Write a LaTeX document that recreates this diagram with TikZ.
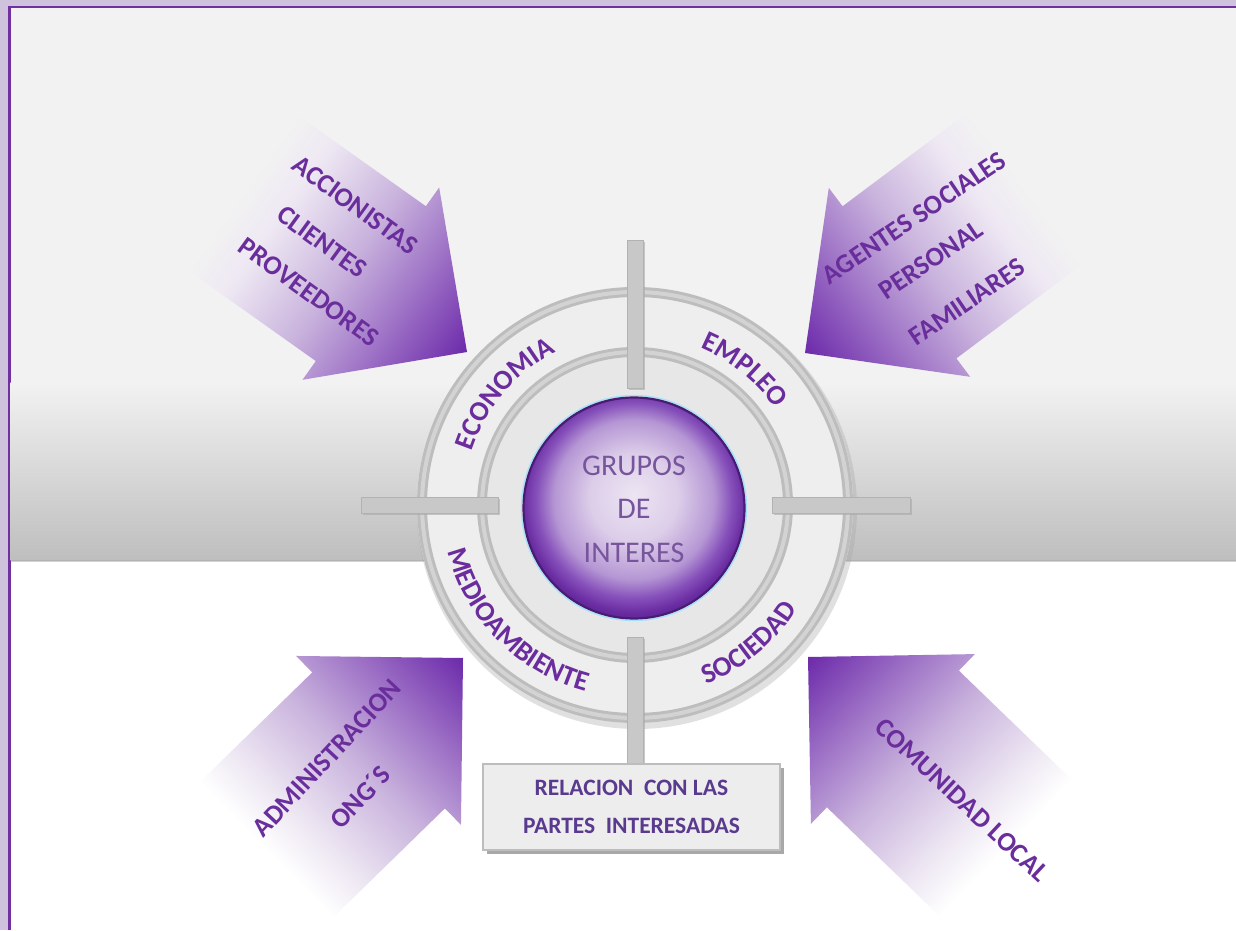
\documentclass[tikz,border=0pt]{standalone}
\usepackage{fontspec}
\setmainfont{Carlito}
\usetikzlibrary{decorations.text}
\definecolor{lav}{HTML}{CFC2DD}
\definecolor{framec}{HTML}{7030A0}
\definecolor{bgtop}{HTML}{F2F2F2}
\definecolor{bgbot}{HTML}{BEBEBE}
\definecolor{ringgray}{HTML}{BDBDBD}
\definecolor{ringlight}{HTML}{D3D3D3}
\definecolor{diskc}{HTML}{EEEEEE}
\definecolor{diskin}{HTML}{E7E7E7}
\definecolor{ringtxt}{HTML}{6B2C9E}
\definecolor{arrtxt}{HTML}{6A2E9C}
\definecolor{sphtxt}{HTML}{77559C}
\definecolor{boxtxt}{HTML}{5A3A8E}
\definecolor{aw}{HTML}{EEE8F3}
\definecolor{amA}{HTML}{C9B3DD}
\definecolor{amB}{HTML}{9E72C6}
\definecolor{ad}{HTML}{6C2AAA}
\definecolor{sphA}{HTML}{ECE5F2}
\definecolor{sphB}{HTML}{DCCDE9}
\definecolor{sphC}{HTML}{B596D4}
\definecolor{sphD}{HTML}{8650BA}
\definecolor{sphE}{HTML}{6A2CA2}
\definecolor{sphF}{HTML}{5A2390}
\definecolor{barc}{HTML}{C8C8C8}
\definecolor{bare}{HTML}{B2B2B2}
\definecolor{shadowc}{HTML}{A8A8A8}
\definecolor{boxfill}{HTML}{EDEDED}
\definecolor{boxedge}{HTML}{BDBDBD}
\pgfdeclarehorizontalshading{arrshT}{100bp}{color(0bp)=(bgtop); color(25bp)=(bgtop); color(33bp)=(aw); color(48bp)=(amA); color(61bp)=(amB); color(75bp)=(ad); color(100bp)=(ad)}
\pgfdeclarehorizontalshading{arrshB}{100bp}{color(0bp)=(white); color(25bp)=(white); color(33bp)=(aw); color(48bp)=(amA); color(61bp)=(amB); color(75bp)=(ad); color(100bp)=(ad)}
\pgfdeclareradialshading{sphsh}{\pgfpoint{0bp}{3bp}}{color(0bp)=(sphA); color(10bp)=(sphB); color(18bp)=(sphC); color(22bp)=(sphD); color(25bp)=(sphE); color(27bp)=(sphF); color(50bp)=(sphF)}
\newcommand\ringf{\fontsize{28}{30}\selectfont\bfseries\color{ringtxt}}
\newcommand\bigarr[3]{%
  \begin{scope}[transform canvas={shift={#1},rotate=#2}]
    \shade[shading=#3] (0,0) -- (-118,118) -- (-118,95) -- (-275,95) -- (-275,-95) -- (-118,-95) -- (-118,-118) -- cycle;
  \end{scope}}
\tikzset{
  arrtext/.style={text=arrtxt, font=\fontsize{27}{30}\selectfont\bfseries, inner sep=0pt},
  barst/.style={fill=barc, draw=bare, line width=0.8pt},
  barshadow/.style={fill=shadowc, opacity=0.6},
  boxst/.style={fill=boxfill, draw=boxedge, line width=1.5pt, minimum width=297pt, minimum height=86pt, inner sep=0pt, align=center, text=boxtxt, font=\fontsize{23.5}{38}\selectfont\bfseries},
}
\begin{document}
\begin{tikzpicture}[x=1pt,y=1pt]
\useasboundingbox (0,0) rectangle (1236,930);
% background
\fill[lav] (0,0) rectangle (1236,930);
\fill[framec] (8,0) rectangle (1236,924);
\fill[white] (10.5,0) rectangle (1236,921.5);
\fill[bgtop] (10.5,547) rectangle (1236,921.5);
\shade[top color=bgtop, bottom color=bgbot] (10.5,370) rectangle (1236,547.5);
\fill[shadowc, opacity=0.5] (10.5,368) rectangle (1236,370.5);
% arrows
\coordinate (tTL) at (467,578);
\coordinate (tTR) at (805,577);
\coordinate (tBL) at (463,272);
\coordinate (tBR) at (808,273);
\bigarr{(467,578)}{-35.4}{arrshT}
\bigarr{(805,577)}{216.8}{arrshT}
\bigarr{(463,272)}{44.3}{arrshB}
\bigarr{(808,273)}{136}{arrshB}
% arrow texts
\node[arrtext, rotate=-36] (acc) at (355,725) {ACCIONISTAS};
\node[arrtext, rotate=-36] (cli) at (322,688) {CLIENTES};
\node[arrtext, rotate=-36] (pro) at (309,638) {PROVEEDORES};
\node[arrtext, rotate=34] (age) at (914,712) {AGENTES SOCIALES};
\node[arrtext, rotate=34] (per) at (931,670) {PERSONAL};
\node[arrtext, rotate=34] (fam) at (967,628) {FAMILIARES};
\node[arrtext, rotate=47] (adm) at (327,172) {ADMINISTRACION};
\node[arrtext, rotate=47] (ong) at (360,133) {ONG´S};
\node[arrtext, rotate=-43] (com) at (962,130) {COMUNIDAD LOCAL};
% ring
\coordinate (C) at (635,425);
\fill[shadowc, opacity=0.35] ([shift={(2,-4)}]C) circle[radius=220pt];
\fill[diskc] (C) circle[radius=218pt];
\fill[diskin] (C) circle[radius=150pt];
\draw[ringgray, line width=10pt] (C) circle[radius=213pt];
\draw[ringlight, line width=4pt] (C) circle[radius=213pt];
\draw[ringgray, line width=10pt] (C) circle[radius=153pt];
\draw[ringlight, line width=4pt] (C) circle[radius=153pt];
% ring labels
\path[decorate, decoration={text along path, text align=center, text={|\ringf|ECONOMIA}}] ([shift={(C)}]180:172pt) arc[start angle=180, end angle=99, radius=172pt];
\path[decorate, decoration={text along path, text align=center, text={|\ringf|EMPLEO}}] ([shift={(C)}]92:170pt) arc[start angle=92, end angle=10, radius=170pt];
\path[decorate, decoration={text along path, text align=center, text={|\ringf|MEDIOAMBIENTE}}] ([shift={(C)}]178:193pt) arc[start angle=178, end angle=271, radius=193pt];
\path[decorate, decoration={text along path, text align=center, text={|\ringf|SOCIEDAD}}] ([shift={(C)}]268:193pt) arc[start angle=268, end angle=351, radius=193pt];
% cross bars
\fill[barshadow] (629,540) rectangle (645,688);
\fill[barshadow] (629,160) rectangle (645,291);
\fill[barshadow] (363,415) rectangle (500,431);
\fill[barshadow] (774,415) rectangle (912,431);
\path[barst] (627,542) rectangle (643,690);
\path[barst] (627,162) rectangle (643,293);
\path[barst] (361,417) rectangle (498,433);
\path[barst] (772,417) rectangle (910,433);
% sphere
\node[circle, minimum size=222pt, inner sep=0pt, shading=sphsh] (sph) at (634,422) {};
\draw[cyan!35!white, line width=1.4pt] (sph.center) circle[radius=112.5pt];
\draw[sphF!80!black, line width=2.2pt] (sph.center) circle[radius=110.5pt];
\node[align=center, text=sphtxt, font=\fontsize{30}{43.5}\selectfont] (grp) at (634,421) {GRUPOS\\DE\\INTERES};
% box
\fill[shadowc] (487,76) rectangle (784,162);
\node[boxst] (rel) at (631.5,123) {RELACION\ \ CON LAS\\PARTES\ \ INTERESADAS};
\end{tikzpicture}
\end{document}
